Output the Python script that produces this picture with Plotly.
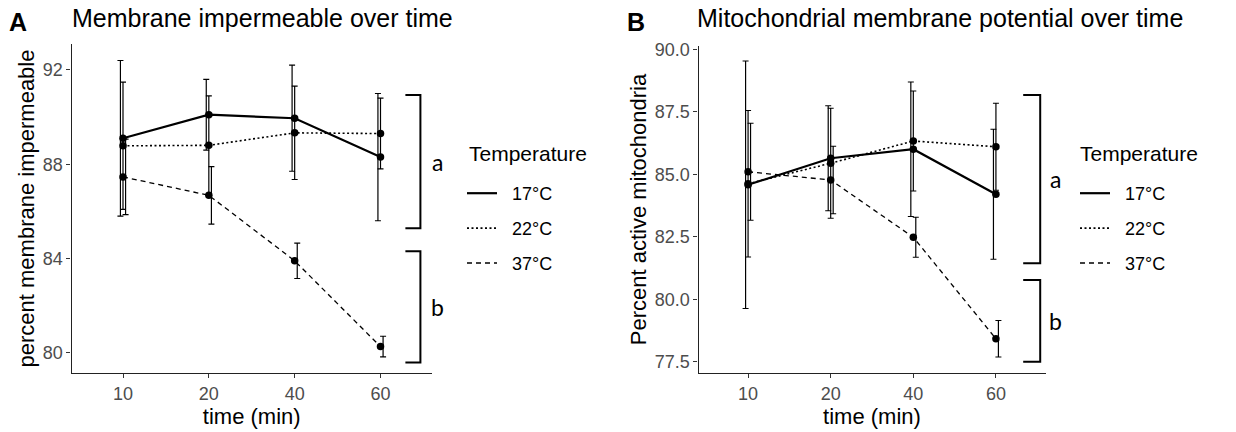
import plotly.graph_objects as go

# ---------------- data ----------------
time_labels = ["10", "20", "40", "60"]
temps = ["17°C", "22°C", "37°C"]

# Panel A: percent membrane impermeable (mean, sd)
a_mean_17 = [89.10, 90.10, 89.95, 88.30]
a_sd_17 = [3.30, 1.50, 2.25, 2.70]
a_mean_22 = [88.78, 88.80, 89.33, 89.30]
a_sd_22 = [2.70, 2.10, 1.98, 1.50]
a_mean_37 = [87.46, 86.68, 83.90, 80.26]
a_sd_37 = [1.60, 1.22, 0.75, 0.44]

# Panel B: percent active mitochondria (mean, sd)
b_mean_17 = [84.58, 85.64, 86.00, 84.20]
b_sd_17 = [4.95, 2.10, 2.69, 2.60]
b_mean_22 = [84.62, 85.44, 86.33, 86.10]
b_sd_22 = [2.93, 2.20, 2.00, 1.74]
b_mean_37 = [85.10, 84.77, 82.48, 78.42]
b_sd_37 = [1.94, 1.35, 0.80, 0.73]

# significance groups (letter, low, high) per panel
a_groups = [("a", 85.28, 90.94), ("b", 79.59, 84.31)]
b_groups = [("a", 81.44, 88.17), ("b", 77.50, 80.77)]

# ---------------- styling ----------------
FONT = "Liberation Sans, Arial, sans-serif"
W, H = 1236, 432
NBSP = "\u00a0"
styles = {
    "17°C": dict(dash="solid", width=2.2),
    "22°C": dict(dash="2px,2.5px", width=1.6),
    "37°C": dict(dash="5px,4px", width=1.3),
}
dodge = {"17°C": -0.03, "22°C": 0.0, "37°C": 0.03}
xpos = list(range(1, len(time_labels) + 1))

fig = go.Figure()

panels = [
    ("x", "y", "legend", [a_mean_17, a_mean_22, a_mean_37], [a_sd_17, a_sd_22, a_sd_37]),
    ("x2", "y2", "legend2", [b_mean_17, b_mean_22, b_mean_37], [b_sd_17, b_sd_22, b_sd_37]),
]

for xa, ya, leg, means, sds in panels:
    for t, m, s in zip(temps, means, sds):
        st = styles[t]
        # error bars (slightly dodged)
        fig.add_trace(go.Scatter(
            x=[p + dodge[t] for p in xpos], y=m, xaxis=xa, yaxis=ya,
            mode="markers", marker=dict(size=1, color="rgba(0,0,0,0)"),
            error_y=dict(type="data", array=s, visible=True, color="black",
                         thickness=1.2, width=3),
            showlegend=False, hoverinfo="skip", cliponaxis=False))
        # line (legend entry)
        fig.add_trace(go.Scatter(
            x=xpos, y=m, xaxis=xa, yaxis=ya, mode="lines", name=NBSP * 2 + t,
            line=dict(color="black", dash=st["dash"], width=st["width"]),
            legend=leg, legendgroup=leg + t, showlegend=True))
        # points
        fig.add_trace(go.Scatter(
            x=xpos, y=m, xaxis=xa, yaxis=ya, mode="markers",
            marker=dict(size=7.5, color="black"), showlegend=False, cliponaxis=False))

# ---------------- axes ----------------
axis_common = dict(
    showline=True, linecolor="#222222", linewidth=1.3, mirror=False,
    ticks="outside", ticklen=4, tickwidth=1.2, tickcolor="#333333",
    showgrid=False, zeroline=False, automargin=False,
    tickfont=dict(family=FONT, size=18, color="#4d4d4d"),
)
xaxis_common = dict(axis_common, range=[0.4, 4.6], tickvals=xpos, ticktext=time_labels,
                    title=dict(text="time (min)", font=dict(family=FONT, size=22, color="black"),
                               standoff=2))

legend_common = dict(xanchor="left", yanchor="top",
                     font=dict(family=FONT, size=18, color="black"), tracegroupgap=8.5,
                     bgcolor="rgba(0,0,0,0)", itemwidth=30)

fig.update_layout(
    width=W, height=H,
    margin=dict(l=0, r=0, t=0, b=0, autoexpand=False),
    paper_bgcolor="white", plot_bgcolor="white",
    font=dict(family=FONT, color="black"),
    xaxis=dict(xaxis_common, domain=[71.5 / W, 432 / W], anchor="y"),
    yaxis=dict(axis_common, domain=[1 - 373 / H, 1 - 44 / H], anchor="x", range=[79.14, 93.10],
               tickvals=[80, 84, 88, 92],
               title=dict(text="percent membrane impermeable",
                          font=dict(family=FONT, size=22, color="black"), standoff=2)),
    xaxis2=dict(xaxis_common, domain=[698.5 / W, 1045.5 / W], anchor="y2"),
    yaxis2=dict(axis_common, domain=[1 - 373 / H, 1 - 46 / H], anchor="x2", range=[77.05, 90.13],
                tickvals=[77.5, 80.0, 82.5, 85.0, 87.5, 90.0], tickformat=".1f",
                title=dict(text="Percent active mitochondria",
                           font=dict(family=FONT, size=22, color="black"), standoff=2)),
    legend=dict(legend_common, x=462 / W, y=1 - 175 / H),
    legend2=dict(legend_common, x=1075 / W, y=1 - 175 / H),
)

# ---------------- titles ----------------
ann = []
def label(text, x, y, size, anchor="left"):
    ann.append(dict(text=text, x=x / W, y=1 - y / H, xref="paper", yref="paper",
                    xanchor=anchor, yanchor="middle", showarrow=False,
                    font=dict(family=FONT, size=size, color="black")))

label("<b>A</b>", 7, 22, 25)
label("Membrane impermeable over time", 70, 18, 25)
label("<b>B</b>", 625, 22, 25)
label("Mitochondrial membrane potential over time", 695, 18, 25)
label("Temperature", 467, 153, 21)
label("Temperature", 1078, 153, 21)

# ---------------- significance brackets ----------------
shapes = []
for (xa, ya, groups, x0, x1, lx) in [("x", "y", a_groups, 4.29, 4.465, 437),
                                      ("x2", "y2", b_groups, 4.33, 4.536, 1055)]:
    for letter, lo, hi in groups:
        shapes.append(dict(type="path", xref=xa, yref=ya,
                           path=f"M {x0},{hi} L {x1},{hi} L {x1},{lo} L {x0},{lo}",
                           line=dict(color="black", width=2)))
        ann.append(dict(text=letter, x=lx / W, y=(lo + hi) / 2, xref="paper", yref=ya,
                        xanchor="center", yanchor="middle", showarrow=False,
                        font=dict(family="Lato, Open Sans, sans-serif", size=23, color="black")))

fig.update_layout(annotations=ann, shapes=shapes)

fig.write_html("out.html", config={"displayModeBar": False},
               post_script="document.body.style.margin='0px';")
